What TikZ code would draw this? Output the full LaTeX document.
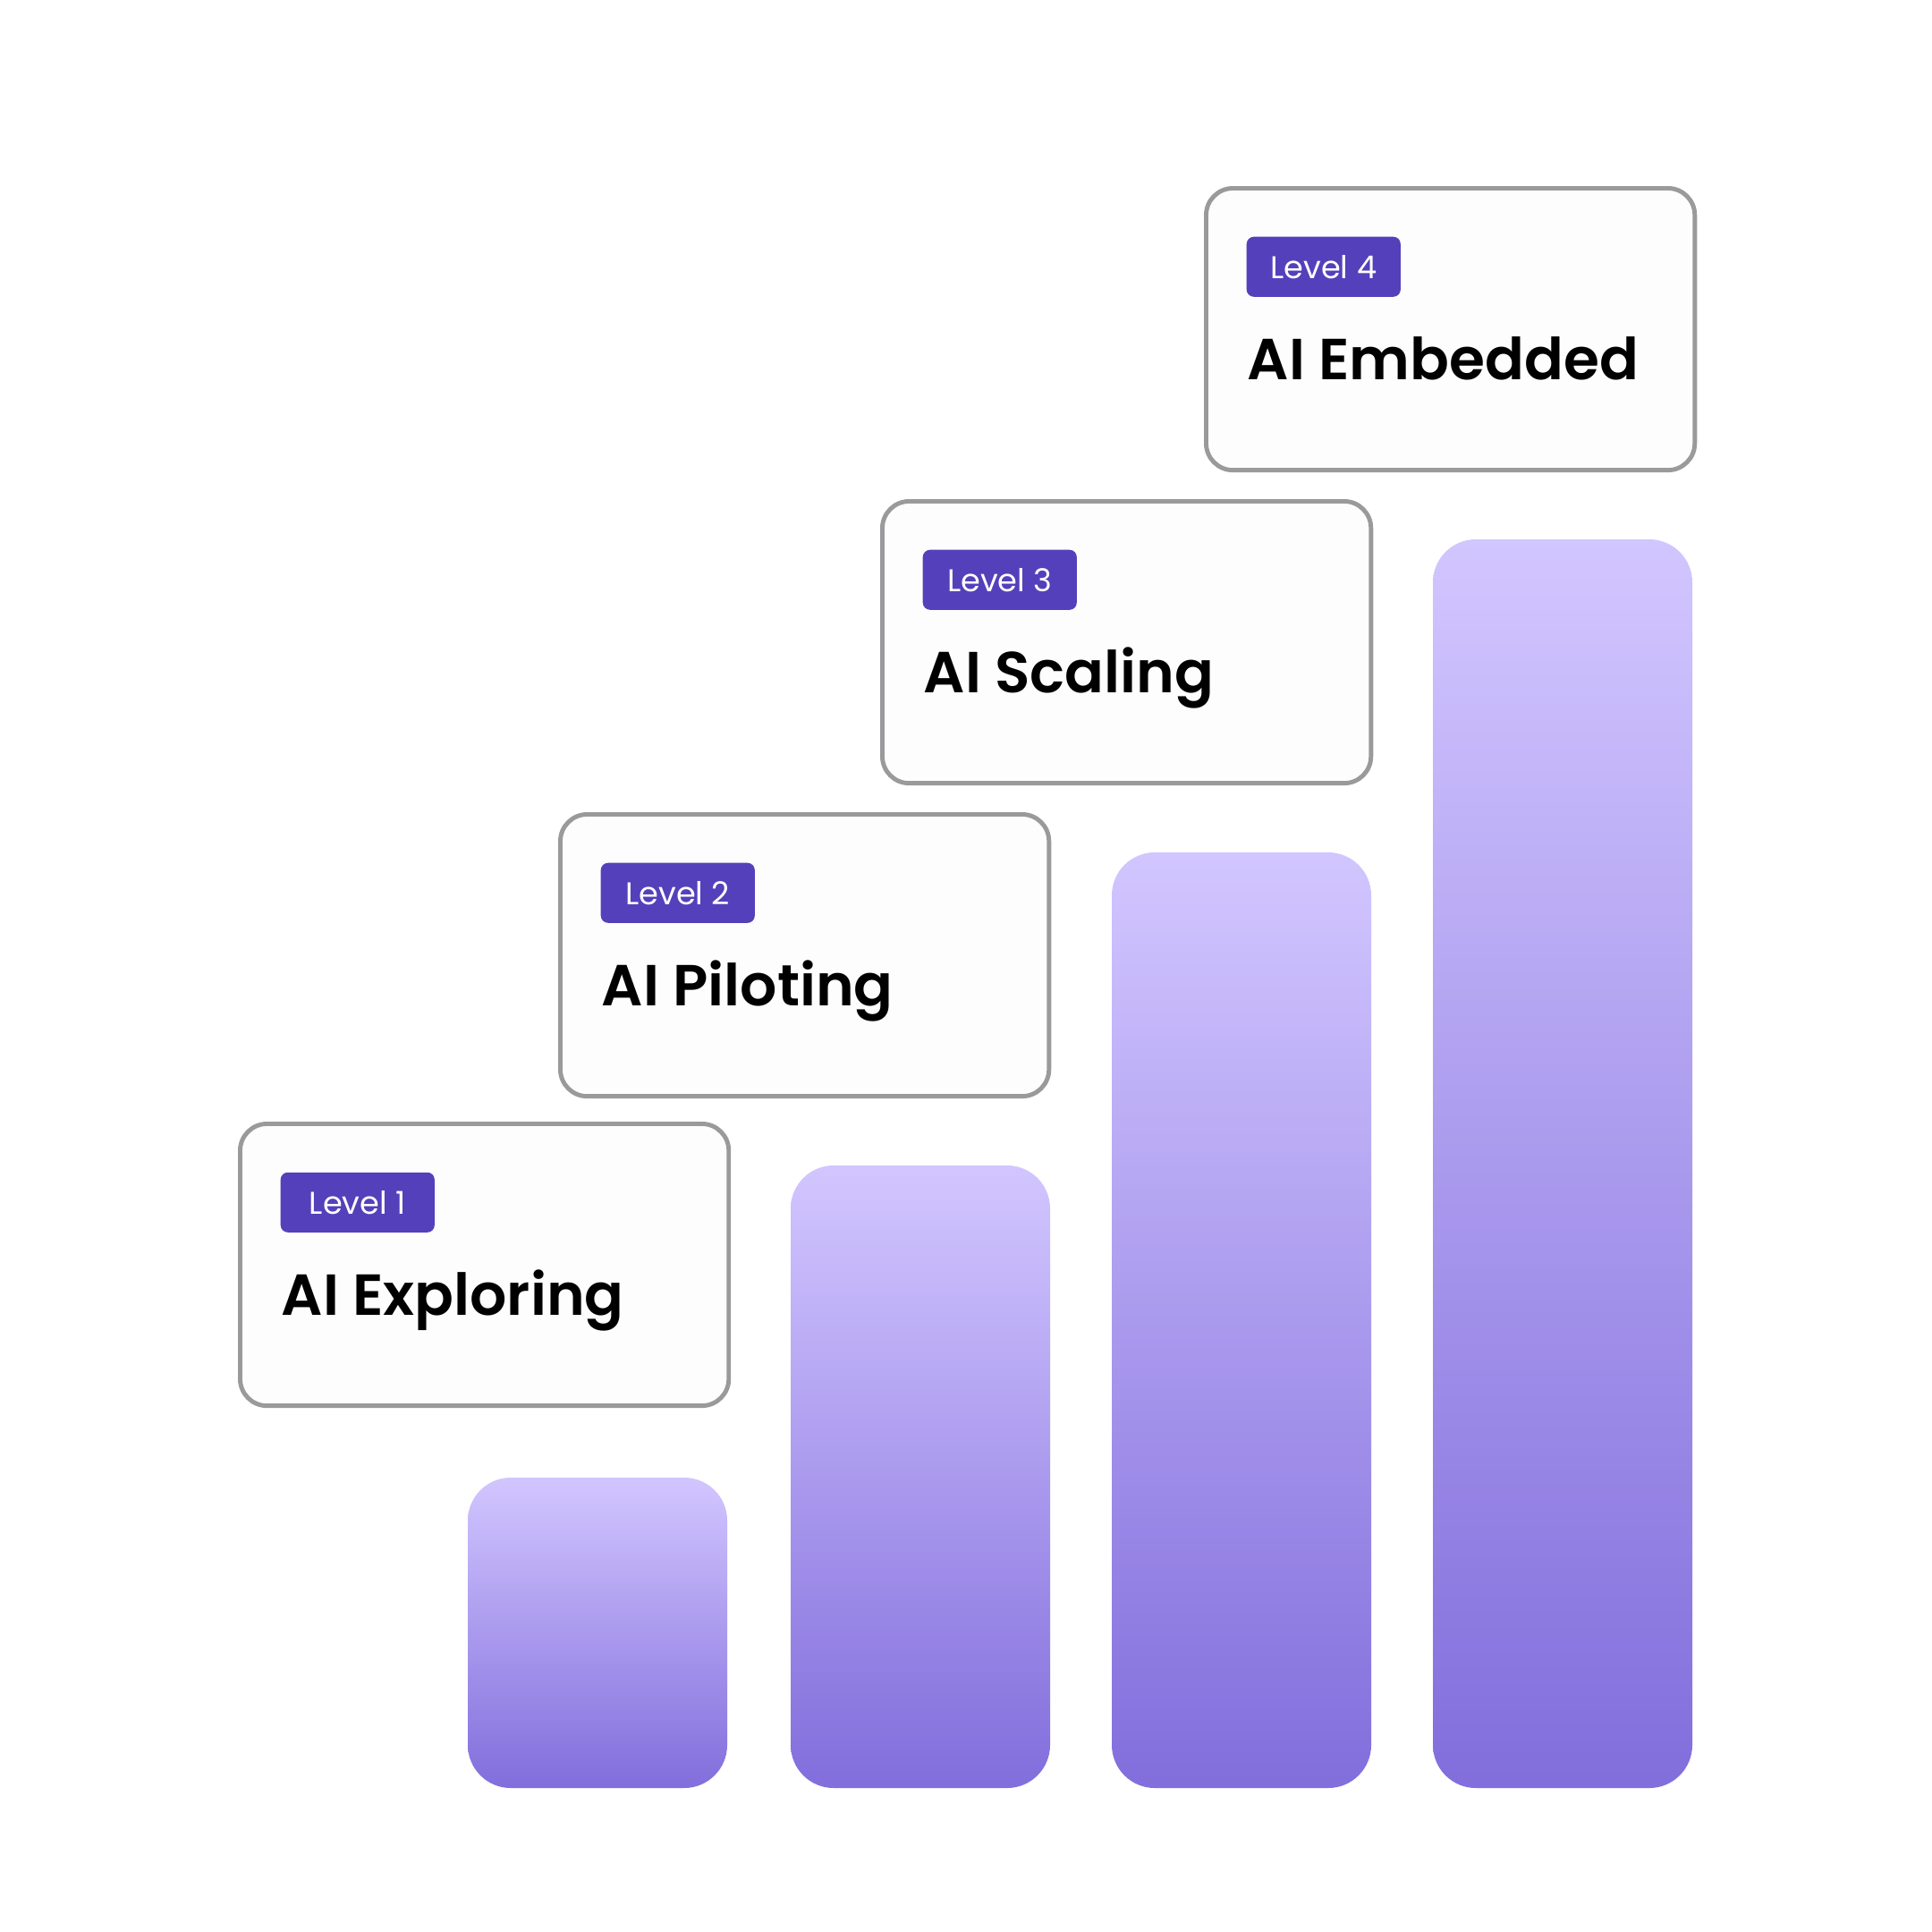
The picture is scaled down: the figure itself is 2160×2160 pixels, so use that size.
\documentclass[tikz,border=0pt]{standalone}
\usepackage{fontspec}
\setmainfont{Poppins}
\newfontfamily\titlefont{Poppins}[UprightFont=* SemiBold]
\usetikzlibrary{positioning}

\begin{document}
\begin{tikzpicture}[x=0.01cm,y=-0.01cm,line join=round,
  card/.style={draw=cardline,fill=cardfill,line width=1.4pt,rounded corners=0.3cm,
    minimum width=5.46cm,minimum height=3.15cm,inner sep=0pt,anchor=north west},
  badge/.style={fill=badgec,text=white,rounded corners=0.08cm,minimum width=1.72cm,
    minimum height=0.67cm,inner sep=0pt,font=\fontsize{10pt}{12pt}\selectfont},
  lvltitle/.style={font=\titlefont\fontsize{18.4pt}{22pt}\selectfont,anchor=base west,inner sep=0pt},
  bar/.style={top color=bartop,bottom color=barbot,rounded corners=0.48cm}]

  \definecolor{cardline}{RGB}{154,154,156}
  \definecolor{cardfill}{RGB}{253,253,254}
  \definecolor{badgec}{RGB}{85,64,187}
  \definecolor{bartop}{RGB}{210,198,255}
  \definecolor{barbot}{RGB}{130,110,220}

  \useasboundingbox[fill=white] (0,0) rectangle (2160,2160);

  % ---- bars (rising steps) ----
  \foreach \bx/\btop in {523/1652,884/1303,1243/953,1602/603} {
    \shade[bar] (\bx,\btop) rectangle (\bx+290,1999);
  }

  % ---- level cards ----
  \foreach \i/\name/\cx/\cy in {1/AI Exploring/266/1254,2/AI Piloting/624/908,
      3/AI Scaling/984/558,4/AI Embedded/1346/208} {
    \node[card] (card\i) at (\cx,\cy) {};
    \node[badge,below right=0.56cm and 0.47cm of card\i.north west] (badge\i) {Level \i};
    \node[lvltitle] (title\i) at ([shift={(48,216)}]card\i.north west) {\name};
  }
\end{tikzpicture}
\end{document}
